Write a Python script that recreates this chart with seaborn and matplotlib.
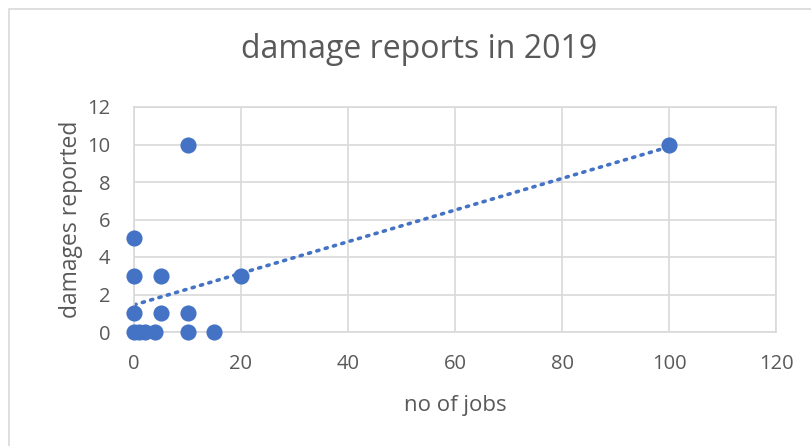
import matplotlib
matplotlib.use('Agg')
import matplotlib.pyplot as plt
import seaborn as sns
import numpy as np
import pandas as pd
from matplotlib.patches import Rectangle

# dados
jobs = [0, 1, 2, 4, 10, 15, 0, 5, 10, 0, 5, 20, 0, 10, 100]
damages = [0, 0, 0, 0, 0, 0, 1, 1, 1, 3, 3, 3, 5, 10, 10]
x_ticks = [0, 20, 40, 60, 80, 100, 120]
y_ticks = [0, 2, 4, 6, 8, 10, 12]

df = pd.DataFrame({'no of jobs': jobs, 'damages reported': damages})

sns.set_style('white')
plt.rcParams['font.family'] = ['Open Sans', 'DejaVu Sans']

azul = '#4472C4'
cinza_txt = '#595959'
cinza_grid = '#D9D9D9'

fig = plt.figure(figsize=(8.11, 4.46), dpi=100)
ax = fig.add_axes([134 / 811, 1 - 332 / 446, (776 - 134) / 811, (332 - 107) / 446])

# borda da área do gráfico (só aparece em cima e à esquerda)
fig.patches.append(Rectangle((9 / 811, -0.1), 1.2, 1 - 9 / 446 + 0.1, transform=fig.transFigure,
                             fill=False, edgecolor=cinza_grid, linewidth=1.2))

# linha de tendência linear (pontilhada)
coef = np.polyfit(df['no of jobs'], df['damages reported'], 1)
xs = np.linspace(0, max(jobs), 50)
ax.plot(xs, np.polyval(coef, xs), linestyle=(0, (0.6, 1.8)), color=azul, linewidth=2.6,
        dash_capstyle='round', zorder=2)

sns.scatterplot(data=df, x='no of jobs', y='damages reported', ax=ax, color=azul, s=135,
                edgecolor=azul, linewidth=0, zorder=3, clip_on=False)

ax.set_xlim(0, 120)
ax.set_ylim(0, 12)
ax.set_xticks(x_ticks)
ax.set_yticks(y_ticks)
ax.grid(True, color=cinza_grid, linewidth=1.2)
ax.set_axisbelow(True)
for s in ax.spines.values():
    s.set_color(cinza_grid)
    s.set_linewidth(1.2)
ax.tick_params(axis='x', length=0, labelsize=14.5, colors=cinza_txt, pad=16)
ax.tick_params(axis='y', length=0, labelsize=14.5, colors=cinza_txt, pad=17)

ax.set_xlabel('no of jobs', fontsize=16, color=cinza_txt, labelpad=15)
ax.set_ylabel('damages reported', fontsize=16.5, color=cinza_txt, labelpad=3)

fig.text(419 / 811, 1 - 50 / 446, 'damage reports in 2019', ha='center', va='center',
         fontsize=23, color=cinza_txt)

plt.savefig('out.png', dpi=100)
